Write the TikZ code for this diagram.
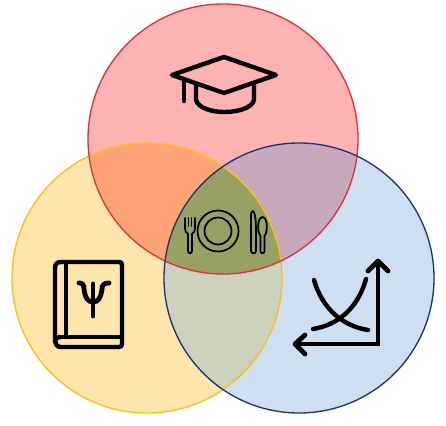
\documentclass[tikz,border=0pt]{standalone}
\definecolor{redf}{RGB}{255,178,178}
\definecolor{yelf}{RGB}{253,229,172}
\definecolor{bluf}{RGB}{205,223,240}
\definecolor{ryf}{RGB}{255,164,119}
\definecolor{rbf}{RGB}{200,168,188}
\definecolor{ybf}{RGB}{205,210,188}
\definecolor{allf}{RGB}{152,160,100}
\definecolor{redl}{RGB}{224,50,60}
\definecolor{yell}{RGB}{255,192,20}
\definecolor{blul}{RGB}{30,50,120}
\tikzset{
  icon/.style={draw=black,line width=3.3pt,line cap=round,line join=round},
  heavyicon/.style={icon,line width=3.6pt},
  thinicon/.style={draw=black,line width=1.3pt,line cap=round,line join=round},
  ring/.style={line width=1pt,fill=none}
}
\begin{document}
\begin{tikzpicture}[x=0.75pt,y=-0.75pt]
\useasboundingbox (0,0) rectangle (446,425);
\coordinate (R) at (223,139);
\coordinate (Y) at (147,278);
\coordinate (B) at (299,278);
\def\rad{101.25pt}
\fill[redf] (R) circle (\rad);
\fill[yelf] (Y) circle (\rad);
\fill[bluf] (B) circle (\rad);
\begin{scope}\clip (R) circle (\rad); \fill[ryf] (Y) circle (\rad); \fill[rbf] (B) circle (\rad);
  \clip (Y) circle (\rad); \fill[allf] (B) circle (\rad); \end{scope}
\begin{scope}\clip (Y) circle (\rad); \clip (B) circle (\rad);
  \fill[ybf] (0,0) rectangle (446,425);
  \fill[allf] (R) circle (\rad); \end{scope}
\draw[ring,yell] (Y) circle (\rad);
\draw[ring,redl] (R) circle (\rad);
\draw[ring,blul] (B) circle (\rad);
% cap
\draw[icon] (172,75) -- (224,57) -- (276,75) -- (224,93) -- cycle;
\draw[icon] (184,79) -- (184,101);
\draw[icon] (196,84) -- (196,100) .. controls (198,108) and (212,112) .. (224,112)
  .. controls (238,112) and (252,108) .. (254,100) -- (254,83);
% book
\draw[icon] (61,262) -- (119,262) .. controls (121,262) and (122,263) .. (122,265)
  -- (122,344) .. controls (122,346) and (121,347) .. (119,347) -- (61,347)
  .. controls (57,347) and (55,344) .. (55,341) -- (55,268)
  .. controls (55,264) and (57,262) .. (61,262) -- cycle;
\draw[icon] (66,262) -- (66,337);
\draw[icon] (61,337) -- (122,337);
\draw[icon] (61,337) .. controls (57,337) and (55,339) .. (55,341);
% psi
\draw[heavyicon] (93,284) -- (93,316);
\draw[heavyicon] (79,283) .. controls (83,283) and (84,285) .. (84,289)
  .. controls (85,298) and (88,302) .. (93,302)
  .. controls (98,302) and (101,298) .. (102,289)
  .. controls (102,285) and (104,283) .. (109,283);
% chart
\draw[heavyicon,line cap=butt,line join=miter] (378,264) -- (378,344) -- (297,344);
\draw[heavyicon] (368,271) -- (378,261) -- (388,271);
\draw[heavyicon] (305,335) -- (295,344) -- (305,354);
\draw[icon] (314,280) .. controls (322,308) and (342,326) .. (368,330);
\draw[icon] (366,279) .. controls (358,308) and (338,325) .. (313,329);
% plate
\draw[thinicon] (218,231) circle (20.5);
\draw[thinicon] (218,231) circle (13.5);
% fork
\draw[thinicon] (185,218) -- (185,228) .. controls (185,232) and (187,233) .. (188,234)
  -- (188,251) .. controls (188,254) and (192,254) .. (192,251) -- (192,234)
  .. controls (194,233) and (195,231) .. (195,228) -- (195,218);
\draw[thinicon] (188.5,218) -- (188.5,226);
\draw[thinicon] (191.5,218) -- (191.5,226);
% knife
\draw[thinicon] (251,214) .. controls (251,212) and (253,211) .. (253,211)
  .. controls (256,214) and (256,225) .. (256,235) -- (256,251)
  .. controls (256,254) and (251,254) .. (251,251) -- cycle;
% spoon
\draw[thinicon] (260.5,236) .. controls (257,232) and (257,218) .. (262.5,217)
  .. controls (268,218) and (268,232) .. (264.5,236) -- (264.5,251)
  .. controls (264.5,254) and (260.5,254) .. (260.5,251) -- cycle;
\end{tikzpicture}
\end{document}
